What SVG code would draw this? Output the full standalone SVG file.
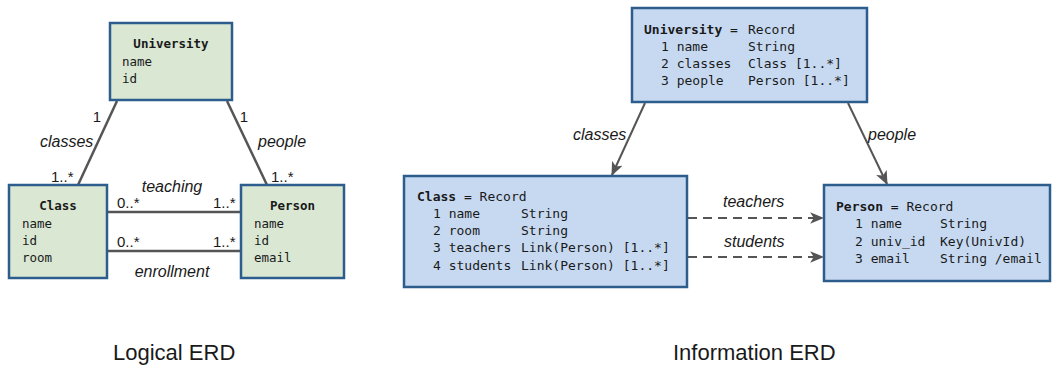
<svg xmlns="http://www.w3.org/2000/svg" width="1054" height="365" viewBox="0 0 1054 365">
<style>
.bg{fill:#ffffff}
.lbox{fill:#d9e7d3;stroke:#2c5d8c;stroke-width:2.5}
.rbox{fill:#c6d9f1;stroke:#2c5d8c;stroke-width:2.5}
.lm{font-family:"DejaVu Sans Mono","Liberation Mono",monospace;font-size:12.5px;fill:#1a1a1a}
.rm{font-family:"DejaVu Sans Mono","Liberation Mono",monospace;font-size:13px;fill:#1a1a1a}
.b{font-weight:bold}
.it{font-family:"Liberation Sans",Arial,sans-serif;font-style:italic;font-size:16px;fill:#1a1a1a}
.mult{font-family:"Liberation Sans",Arial,sans-serif;font-size:15px;fill:#1a1a1a}
.cap{font-family:"Liberation Sans",Arial,sans-serif;font-size:22px;fill:#1a1a1a}
.ln{stroke:#555;stroke-width:2.5;fill:none}
.ar{stroke:#555;stroke-width:2;fill:none;marker-end:url(#ah)}
.da{stroke:#555;stroke-width:2;fill:none;stroke-dasharray:9,6;marker-end:url(#ah)}
</style>
<defs>
<marker id="ah" viewBox="0 0 12 10" refX="11" refY="5" markerWidth="7" markerHeight="6" orient="auto" markerUnits="strokeWidth">
<path d="M0,0 L12,5 L0,10 L3,5 z" fill="#555"/>
</marker>
</defs>
<rect class="bg" x="0" y="0" width="1054" height="365"/>

<g id="connectors">
<line class="ln" x1="117" y1="101" x2="78" y2="185"/>
<line class="ln" x1="227" y1="101" x2="267" y2="185"/>
<line class="ln" x1="107" y1="212" x2="241" y2="212"/>
<line class="ln" x1="107" y1="251" x2="241" y2="251"/>
<text class="mult" x="97" y="122" text-anchor="middle">1</text>
<text class="mult" x="244" y="122" text-anchor="middle">1</text>
<text class="it" x="40" y="147">classes</text>
<text class="it" x="258" y="147">people</text>
<text class="mult" x="51" y="182">1..*</text>
<text class="mult" x="271" y="182">1..*</text>
<text class="it" x="172" y="192" text-anchor="middle">teaching</text>
<text class="mult" x="117" y="208">0..*</text>
<text class="mult" x="213" y="208">1..*</text>
<text class="mult" x="117" y="247">0..*</text>
<text class="mult" x="213" y="247">1..*</text>
<text class="it" x="172" y="277" text-anchor="middle">enrollment</text>

<line class="ar" x1="645" y1="103" x2="612" y2="175"/>
<line class="ar" x1="848" y1="103" x2="887" y2="184"/>
<line class="da" x1="688" y1="218" x2="823" y2="218"/>
<line class="da" x1="688" y1="257" x2="823" y2="257"/>
<text class="it" x="573" y="140">classes</text>
<text class="it" x="868" y="140">people</text>
<text class="it" x="723" y="207">teachers</text>
<text class="it" x="724" y="247">students</text>
</g>

<g id="l-university">
<rect class="lbox" x="110" y="23" width="122" height="77"/>
<text class="lm b" x="171" y="48" text-anchor="middle">University</text>
<text class="lm" x="122" y="66">name</text>
<text class="lm" x="122" y="83">id</text>
</g>
<g id="l-class">
<rect class="lbox" x="9" y="185" width="98" height="93"/>
<text class="lm b" x="58" y="210" text-anchor="middle">Class</text>
<text class="lm" x="22" y="228">name</text>
<text class="lm" x="22" y="245">id</text>
<text class="lm" x="22" y="262">room</text>
</g>
<g id="l-person">
<rect class="lbox" x="241" y="185" width="103" height="93"/>
<text class="lm b" x="292.5" y="210" text-anchor="middle">Person</text>
<text class="lm" x="254" y="228">name</text>
<text class="lm" x="254" y="245">id</text>
<text class="lm" x="254" y="262">email</text>
</g>

<g id="r-university">
<rect class="rbox" x="632" y="8" width="235" height="94"/>
<text class="rm" x="644" y="34"><tspan class="b">University</tspan> =</text>
<text class="rm" x="748" y="34">Record</text>
<text class="rm" x="661" y="51">1 name</text>
<text class="rm" x="748" y="51">String</text>
<text class="rm" x="661" y="68">2 classes</text>
<text class="rm" x="748" y="68">Class [1..*]</text>
<text class="rm" x="661" y="85">3 people</text>
<text class="rm" x="748" y="85">Person [1..*]</text>
</g>
<g id="r-class">
<rect class="rbox" x="404" y="176" width="283" height="111"/>
<text class="rm" x="417" y="201"><tspan class="b">Class</tspan> = Record</text>
<text class="rm" x="433" y="218">1 name</text>
<text class="rm" x="521" y="218">String</text>
<text class="rm" x="433" y="235">2 room</text>
<text class="rm" x="521" y="235">String</text>
<text class="rm" x="433" y="252">3 teachers</text>
<text class="rm" x="521" y="252">Link(Person) [1..*]</text>
<text class="rm" x="433" y="270">4 students</text>
<text class="rm" x="521" y="270">Link(Person) [1..*]</text>
</g>
<g id="r-person">
<rect class="rbox" x="824" y="185" width="226" height="96"/>
<text class="rm" x="836" y="211"><tspan class="b">Person</tspan> = Record</text>
<text class="rm" x="855" y="228">1 name</text>
<text class="rm" x="940" y="228">String</text>
<text class="rm" x="855" y="246">2 univ_id</text>
<text class="rm" x="940" y="246">Key(UnivId)</text>
<text class="rm" x="855" y="263">3 email</text>
<text class="rm" x="940" y="263">String /email</text>
</g>

<text class="cap" x="113" y="360">Logical ERD</text>
<text class="cap" x="673" y="360">Information ERD</text>
</svg>
